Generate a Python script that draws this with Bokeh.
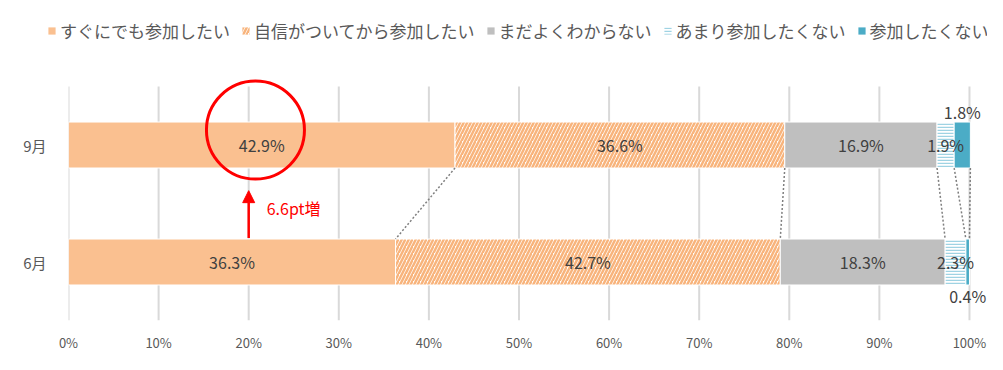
import numpy as np
from bokeh.plotting import figure
from bokeh.layouts import column
from bokeh.models import (ColumnDataSource, Legend, LegendItem, FixedTicker,
                          Arrow, NormalHead, Label)
from bokeh.core.properties import value
from bokeh.embed import file_html
from bokeh.resources import INLINE

# ---------------- data ----------------
categories = ["6月", "9月"]
series_names = ["すぐにでも参加したい", "自信がついてから参加したい", "まだよくわからない",
                "あまり参加したくない", "参加したくない"]
values_jun = [36.3, 42.7, 18.3, 2.3, 0.4]
values_sep = [42.9, 36.6, 16.9, 1.9, 1.8]
x_ticks = [0, 10, 20, 30, 40, 50, 60, 70, 80, 90, 100]
x_tick_labels = ["0%", "10%", "20%", "30%", "40%", "50%", "60%", "70%", "80%", "90%", "100%"]
increase_label = "6.6pt増"

# ---------------- styles ----------------
fills = ["#FAC090", "white", "#BFBFBF", "white", "#4BACC6"]
hatches = [None, "/", None, "-", None]
hatch_colors = [None, "#F8B47C", None, "#9FD3E3", None]
CJK = "Noto Sans CJK JP"
NUM = "Noto Sans CJK JP"
TXT = "#404040"
AX = "#595959"
BAR_H = 0.393


def bar_style(j, line_color="white"):
    kw = dict(fill_color=fills[j], line_color=line_color, line_width=1)
    if hatches[j]:
        kw.update(hatch_pattern=hatches[j], hatch_color=hatch_colors[j],
                  hatch_scale=7 if hatches[j] == "/" else 3,
                  hatch_weight=2.5 if hatches[j] == "/" else 1.5)
    return kw


# ---------------- legend strip ----------------
leg = figure(width=987, height=50, output_backend="svg", toolbar_location=None,
             x_range=(0, 1), y_range=(0, 1), x_axis_location=None, y_axis_location=None,
             min_border_left=0, min_border_right=0, min_border_top=0, min_border_bottom=0,
             frame_align=False)
leg.grid.visible = False
leg.outline_line_color = None
leg_renderers = []
for j in range(len(series_names)):
    # zero-size, off-range row so that the legend has a glyph to draw
    leg_renderers.append(leg.hbar(y=[-10], left=[0], right=[0], height=0.1,
                                  **bar_style(j, line_color=None)))
legend = Legend(items=[LegendItem(label=n, renderers=[r]) for n, r in zip(series_names, leg_renderers)],
                orientation="horizontal", location=(47, 7),
                label_text_font=CJK, label_text_font_size="17px", label_text_color=AX,
                glyph_width=9, glyph_height=9, label_standoff=4, spacing=11,
                padding=0, margin=0, border_line_color=None, background_fill_alpha=0,
                label_height=20)
leg.add_layout(legend, "center")

# ---------------- main chart ----------------
p = figure(width=987, height=304, output_backend="svg", toolbar_location=None,
           x_range=(0, 102.0), y_range=(-0.5, 1.637),
           min_border_left=68, min_border_right=0, min_border_top=20, min_border_bottom=34,
           frame_align=False)
p.outline_line_color = None
p.background_fill_color = "white"
p.border_fill_color = "white"

ypos = [0, 1]
arr = np.array([values_jun, values_sep])
cum = np.cumsum(arr, axis=1)
lefts = cum - arr

# vertical gridlines (only over the bar area)
p.segment(x0=x_ticks, y0=[-0.5] * len(x_ticks), x1=x_ticks, y1=[1.5] * len(x_ticks),
          line_color="#D9D9D9", line_width=2)

for j, name in enumerate(series_names):
    src = ColumnDataSource(dict(y=ypos, left=lefts[:, j], right=cum[:, j]))
    p.hbar(y="y", left="left", right="right", height=BAR_H, source=src, **bar_style(j))

# series lines (between bars)
for j in range(len(series_names)):
    p.segment(x0=[cum[1, j]], y0=[1 - BAR_H / 2], x1=[cum[0, j]], y1=[BAR_H / 2],
              line_color="#7F7F7F", line_width=1.5, line_dash="2 2")

# data labels
lx, ly, lt = [], [], []
for i, yv in enumerate(ypos):
    for j in range(len(series_names)):
        v = arr[i, j]
        cx = lefts[i, j] + v / 2
        cy = yv
        if j == 4:
            cy = yv + 0.28 if yv == 1 else yv - 0.29
        lx.append(cx); ly.append(cy); lt.append(f"{v:.1f}%")
p.text(x=lx, y=ly, text=lt, text_align="center", text_baseline="middle",
       text_font=value(NUM), text_font_size="16px", text_color=TXT)

# highlight circle around the 9月 first value
p.scatter(x=[20.75], y=[1.128], size=98, marker="circle", fill_alpha=0,
          line_color="#FF0000", line_width=3)
# arrow
p.add_layout(Arrow(end=NormalHead(size=12, fill_color="#FF0000", line_color="#FF0000"),
                   x_start=20, y_start=0.205, x_end=20, y_end=0.61,
                   line_color="#FF0000", line_width=2.5))
p.add_layout(Label(x=22, y=0.46, text=increase_label, text_color="#FF0000",
                   text_font=CJK, text_font_size="16px", text_baseline="middle"))

# axes
p.xaxis.ticker = FixedTicker(ticks=x_ticks)
p.xaxis.major_label_overrides = {t: l for t, l in zip(x_ticks, x_tick_labels)}
p.xaxis.axis_line_color = None
p.xaxis.major_tick_line_color = None
p.xaxis.minor_tick_line_color = None
p.xaxis.major_label_text_font = NUM
p.xaxis.major_label_text_font_size = "13px"
p.xaxis.major_label_text_color = AX
p.xaxis.major_label_standoff = 6

p.yaxis.ticker = FixedTicker(ticks=ypos)
p.yaxis.major_label_overrides = {y: c for y, c in zip(ypos, categories)}
p.yaxis.axis_line_color = None
p.yaxis.major_tick_line_color = None
p.yaxis.minor_tick_line_color = None
p.yaxis.major_label_text_font = CJK
p.yaxis.major_label_text_font_size = "15px"
p.yaxis.major_label_text_color = AX
p.yaxis.major_label_standoff = 16

p.xgrid.grid_line_color = None
p.ygrid.grid_line_color = None

layout = column(leg, p, spacing=0)
open("out.html", "w").write(file_html(layout, INLINE))
